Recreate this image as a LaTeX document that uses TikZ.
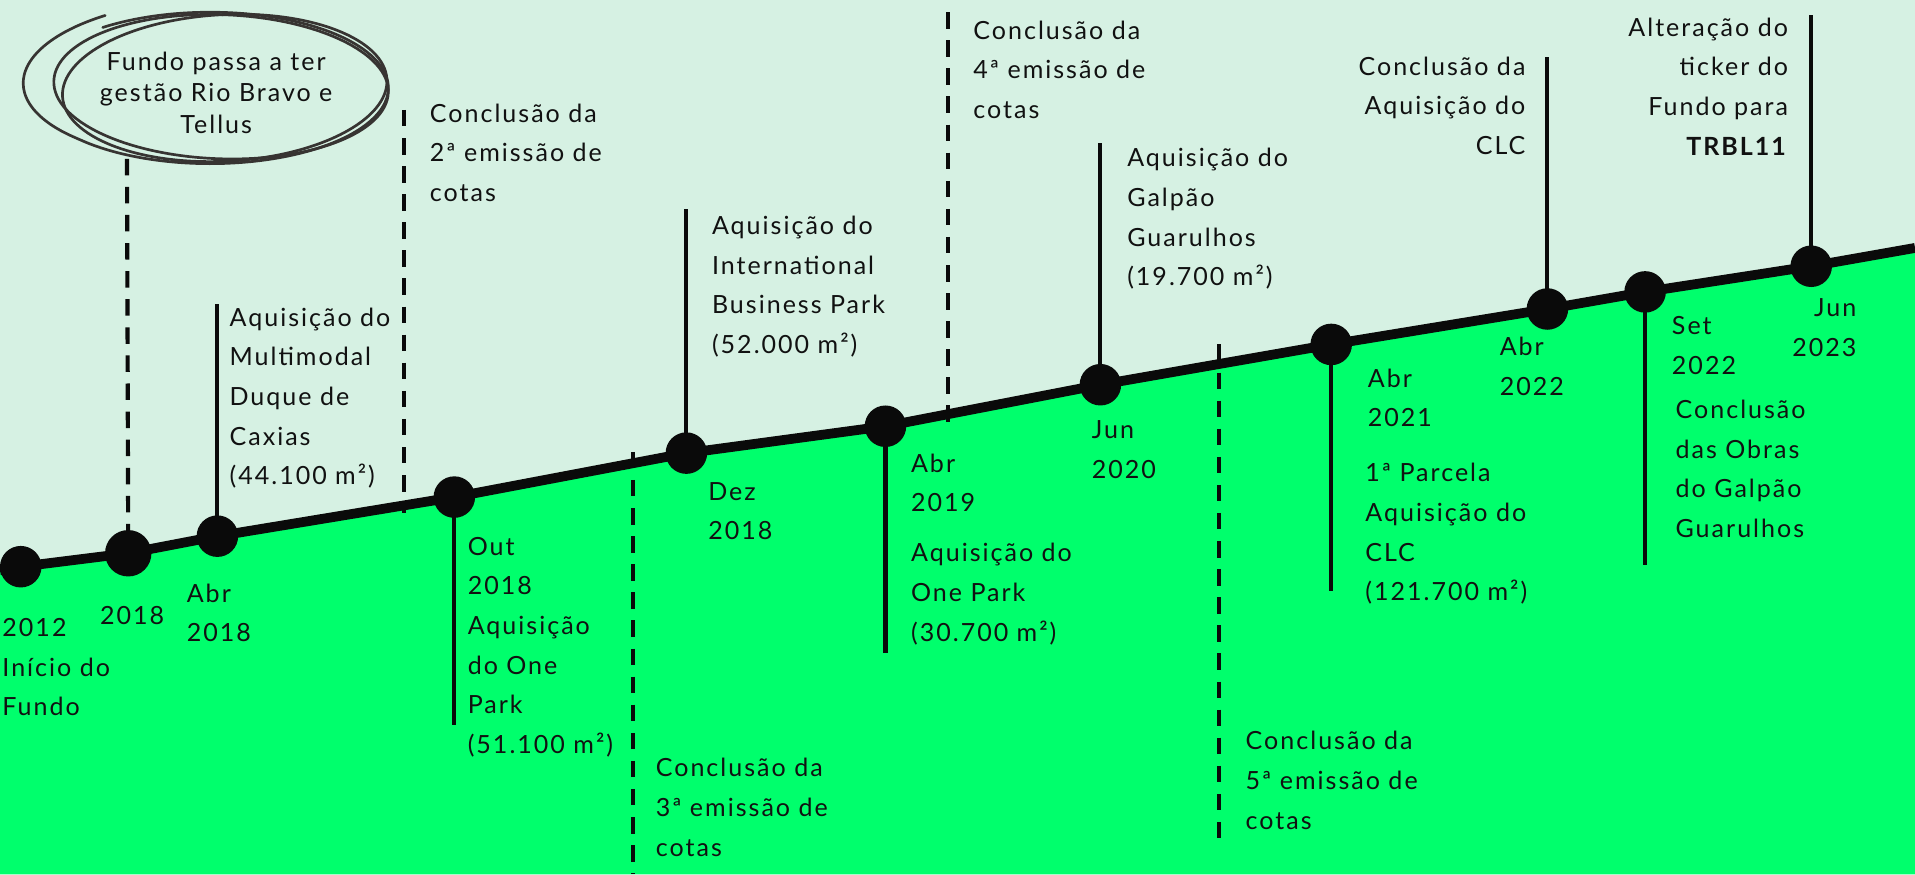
\documentclass[tikz,border=0pt]{standalone}
\usepackage{fontspec}
\setmainfont{Lato}[LetterSpace=8]
\definecolor{tlmint}{RGB}{214, 241, 227}
\definecolor{tlgreen}{RGB}{0, 255, 108}
\definecolor{tlblack}{RGB}{10, 10, 10}
\definecolor{tltext}{RGB}{17, 17, 17}
\definecolor{tlscrib}{RGB}{55, 52, 50}
\begin{document}
\begin{tikzpicture}[x=1pt,y=-1pt,
  dot/.style={circle,fill=tlblack,inner sep=0,minimum size=34pt},
  stem/.style={line width=3.4pt,tlblack},
  dashstem/.style={line width=3.4pt,tlblack,dash pattern=on 13.5pt off 9.5pt},
  scrib/.style={line width=2.2pt,tlscrib,line cap=round},
  txt/.style={inner sep=0,outer sep=0,anchor=base west,align=left,text=tltext,font=\fontsize{20.5}{32.5}\selectfont},
  txtr/.style={txt,anchor=base east,align=right}]
\useasboundingbox (0,0) rectangle (1568,716);
% timeline points
\coordinate (s0) at (0,467);
\coordinate (p12) at (17,464);
\coordinate (p18) at (105,453);
\coordinate (pA18) at (178,439);
\coordinate (pO18) at (372,407);
\coordinate (pD18) at (562,371);
\coordinate (pA19) at (725,349);
\coordinate (pJ20) at (901,315);
\coordinate (pA21) at (1090,282);
\coordinate (pA22) at (1267,253);
\coordinate (pS22) at (1347,239);
\coordinate (pJ23) at (1483,218);
\coordinate (s1) at (1568,203);
% background
\fill [tlmint] (0,0) rectangle (1568,716);
\fill [tlgreen] (s0) -- (p12) -- (p18) -- (pA18) -- (pO18) -- (pD18) -- (pA19) -- (pJ20) -- (pA21)
  -- (pA22) -- (pS22) -- (pJ23) -- (s1) -- (1568,716) -- (0,716) -- cycle;
% scribbled ellipse
\draw [scrib] plot [domain=0:365, samples=120, smooth, variable=\t]
  ({172+(162-16*min(\t,100)/100)*cos(238-\t)}, {72+(70-8*min(\t,100)/100)*sin(238-\t)});
\draw [scrib, rotate around={3:(184,72)}] (184,72) ellipse (133 and 60);
\draw [scrib, rotate around={-2:(181,71)}] (181,71) ellipse (137 and 59);
\node [txt, anchor=base, align=center, font=\fontsize{20.5}{25.5}\selectfont] (fundo) at (177,109) {Fundo passa a ter\\gestão Rio Bravo e\\Tellus};
% free ends of the stems
\coordinate (eFundo) at (104,130);
\coordinate (e2a) at (331,90);
\coordinate (e2b) at (331,420);
\coordinate (e3a) at (518,370);
\coordinate (e3b) at (518,716);
\coordinate (e4a) at (776,10);
\coordinate (e4b) at (776,355);
\coordinate (e5a) at (998,282);
\coordinate (e5b) at (998,686);
\coordinate (eA18) at (178,249);
\coordinate (eO18) at (372,594);
\coordinate (eD18) at (562,171);
\coordinate (eA19) at (725,535);
\coordinate (eJ20) at (901,117);
\coordinate (eA21) at (1090,484);
\coordinate (eA22) at (1267,47);
\coordinate (eS22) at (1347,463);
\coordinate (eJ23) at (1483,12);
% stems
\draw [dashstem] (eFundo) -- (p18);
\draw [dashstem] (e2a) -- (e2b);
\draw [dashstem] (e3a) -- (e3b);
\draw [dashstem] (e4a) -- (e4b);
\draw [dashstem] (e5a) -- (e5b);
\draw [stem] (pA18) -- (eA18);
\draw [stem] (pO18) -- (eO18);
\draw [stem] (pD18) -- (eD18);
\draw [stem] (pA19) -- (eA19);
\draw [stem] (pJ20) -- (eJ20);
\draw [stem] (pA21) -- (eA21);
\draw [stem] (pA22) -- (eA22);
\draw [stem] (pS22) -- (eS22);
\draw [stem] (pJ23) -- (eJ23);
% timeline
\draw [line width=8pt, tlblack] (s0) -- (p12) -- (p18) -- (pA18) -- (pO18) -- (pD18) -- (pA19) -- (pJ20)
  -- (pA21) -- (pA22) -- (pS22) -- (pJ23) -- (s1);
\node [dot] (d12) at (p12) {};
\node [dot, minimum size=38pt] (d18) at (p18) {};
\node [dot] (dA18) at (pA18) {};
\node [dot] (dO18) at (pO18) {};
\node [dot] (dD18) at (pD18) {};
\node [dot] (dA19) at (pA19) {};
\node [dot] (dJ20) at (pJ20) {};
\node [dot] (dA21) at (pA21) {};
\node [dot] (dA22) at (pA22) {};
\node [dot] (dS22) at (pS22) {};
\node [dot] (dJ23) at (pJ23) {};
% dates (anchored at the baseline of the last line)
\node [txt] (t12) at (2,586) {2012\\Início do\\Fundo};
\node [txt] (t18) at (82,511) {2018};
\node [txt] (tA18) at (153,525.5) {Abr\\2018};
\node [txt] (tO18) at (383,617) {Out\\2018\\Aquisição\\do One\\Park\\(51.100 m²)};
\node [txt] (tD18) at (580,442) {Dez\\2018};
\node [txt] (tA19) at (746,419) {Abr\\2019};
\node [txt] (tJ20) at (894,391.5) {Jun\\2020};
\node [txt] (tA21) at (1120,349.5) {Abr\\2021};
\node [txt] (tA22) at (1228,323.5) {Abr\\2022};
\node [txt] (tS22) at (1369,306.5) {Set\\2022};
\node [txtr] (tJ23) at (1520,291.5) {Jun\\2023};
% events
\node [txt] (vA18) at (188,397) {Aquisição do\\Multimodal\\Duque de\\Caxias\\(44.100 m²)};
\node [txt] (v2em) at (352,165) {Conclusão da\\2ª emissão de\\cotas};
\node [txt] (v3em) at (537,701) {Conclusão da\\3ª emissão de\\cotas};
\node [txt] (vD18) at (583,289.5) {Aquisição do\\International\\Business Park\\(52.000 m²)};
\node [txt] (vA19) at (746,525) {Aquisição do\\One Park\\(30.700 m²)};
\node [txt] (v4em) at (797,97) {Conclusão da\\4ª emissão de\\cotas};
\node [txt] (vJ20) at (923,234) {Aquisição do\\Galpão\\Guarulhos\\(19.700 m²)};
\node [txt] (v5em) at (1020,679) {Conclusão da\\5ª emissão de\\cotas};
\node [txt] (vA21) at (1118,492) {1ª Parcela\\Aquisição do\\CLC\\(121.700 m²)};
\node [txtr] (vA22) at (1249,126.5) {Conclusão da\\Aquisição do\\CLC};
\node [txt] (vS22) at (1372,440) {Conclusão\\das Obras\\do Galpão\\Guarulhos};
\node [txtr] (vJ23) at (1464,127) {Alteração do\\ticker do\\Fundo para\\\textbf{TRBL11}};
\end{tikzpicture}
\end{document}
